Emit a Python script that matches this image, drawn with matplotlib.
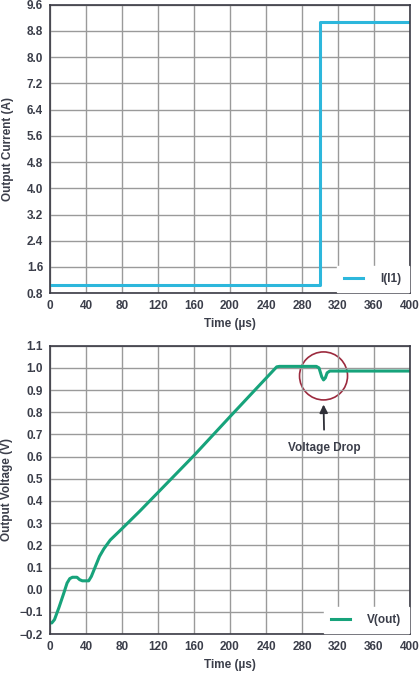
import matplotlib.pyplot as plt
from matplotlib.patches import Ellipse

plt.rcParams['font.family'] = ['Liberation Sans', 'DejaVu Sans']
plt.rcParams['font.weight'] = 'bold'
plt.rcParams['axes.labelweight'] = 'bold'
plt.rcParams['font.size'] = 8.5

TXT = '#3b3e4a'
GRID = '#9a9a9a'
CYAN = '#2db7dc'
GREEN = '#17a37b'
RED = '#9c2a3e'

# current step, I(I1)
t_cur = [0, 300, 300, 400]
i_cur = [1.06, 1.06, 9.07, 9.07]

# output voltage, V(out)
t_v = [0, 2, 5, 10, 15, 19, 22, 25, 30, 33, 36, 43, 46, 50, 55, 60, 67, 80, 100,
       130, 160, 200, 230, 252, 255, 296, 299, 302, 304, 306, 308, 311, 320, 400]
v_out = [-0.149, -0.15, -0.135, -0.08, -0.02, 0.03, 0.05, 0.056, 0.056, 0.045, 0.04,
         0.04, 0.06, 0.10, 0.15, 0.185, 0.224, 0.275, 0.355,
         0.48, 0.605, 0.78, 0.91, 1.005, 1.007, 1.007, 1.0, 0.96, 0.946, 0.955, 0.978,
         0.986, 0.986, 0.986]

x_ticks = list(range(0, 401, 40))
i_ticks = [0.8, 1.6, 2.4, 3.2, 4.0, 4.8, 5.6, 6.4, 7.2, 8.0, 8.8, 9.6]
v_ticks = [-0.2, -0.1, 0.0, 0.1, 0.2, 0.3, 0.4, 0.5, 0.6, 0.7, 0.8, 0.9, 1.0, 1.1]


def style(ax):
    ax.set_xlim(0, 400)
    ax.set_xticks(x_ticks)
    ax.grid(True, color=GRID, linewidth=1.0)
    ax.tick_params(length=0, colors=TXT, pad=5, labelsize=8.5)
    for lab in ax.get_xticklabels() + ax.get_yticklabels():
        lab.set_fontweight('bold')
    for s in ax.spines.values():
        s.set_color('#3a3a44')
        s.set_linewidth(1.2)
    ax.set_xlabel('Time (µs)', color=TXT, labelpad=4, fontsize=8.5, fontweight='bold')


def white_legend(ax):
    leg = ax.legend(loc='lower right', frameon=True, fancybox=False, borderaxespad=0.1,
                    handlelength=1.6, handletextpad=1.5, borderpad=0.6,
                    prop={'size': 8.5, 'weight': 'bold'})
    leg.get_frame().set_facecolor('white')
    leg.get_frame().set_edgecolor('white')
    leg.get_frame().set_alpha(1)
    for t in leg.get_texts():
        t.set_color(TXT)


fig = plt.figure(figsize=(4.2, 6.74), dpi=100)

ax1 = fig.add_axes([0.119, 0.565, 0.857, 0.428])
ax1.plot(t_cur, i_cur, color=CYAN, linewidth=2.2, label='I(I1)')
ax1.set_ylim(0.8, 9.6)
ax1.set_yticks(i_ticks)
ax1.set_yticklabels(['%.1f' % v for v in i_ticks])
style(ax1)
ax1.set_ylabel('Output Current (A)', color=TXT, labelpad=9, fontsize=8.5, fontweight='bold')
white_legend(ax1)

ax2 = fig.add_axes([0.119, 0.0593, 0.857, 0.4277])
ax2.plot(t_v, v_out, color=GREEN, linewidth=2.2, label='V(out)')
ax2.set_ylim(-0.2, 1.1)
ax2.set_yticks(v_ticks)
ax2.set_yticklabels([('%.1f' % v).replace('-', '\u2212') for v in v_ticks])
style(ax2)
ax2.set_ylabel('Output Voltage (V)', color=TXT, labelpad=5, fontsize=8.5, fontweight='bold')
white_legend(ax2)

# circle around the drop (48 px across on both axes)
w_data = 48 / (0.857 * 420) * 400
h_data = 48 / (0.4277 * 674) * 1.3
ax2.add_patch(Ellipse((304, 0.964), w_data, h_data, fill=False, edgecolor=RED, linewidth=1.2))
ax2.annotate('Voltage Drop', xy=(304, 0.835), xytext=(305, 0.638), color=TXT,
             ha='center', va='center', fontsize=8.5, fontweight='bold',
             arrowprops=dict(arrowstyle='-|>', color='#2f3038', lw=1.3,
                             mutation_scale=12, shrinkA=7, shrinkB=0))

fig.savefig('out.png', dpi=100)
